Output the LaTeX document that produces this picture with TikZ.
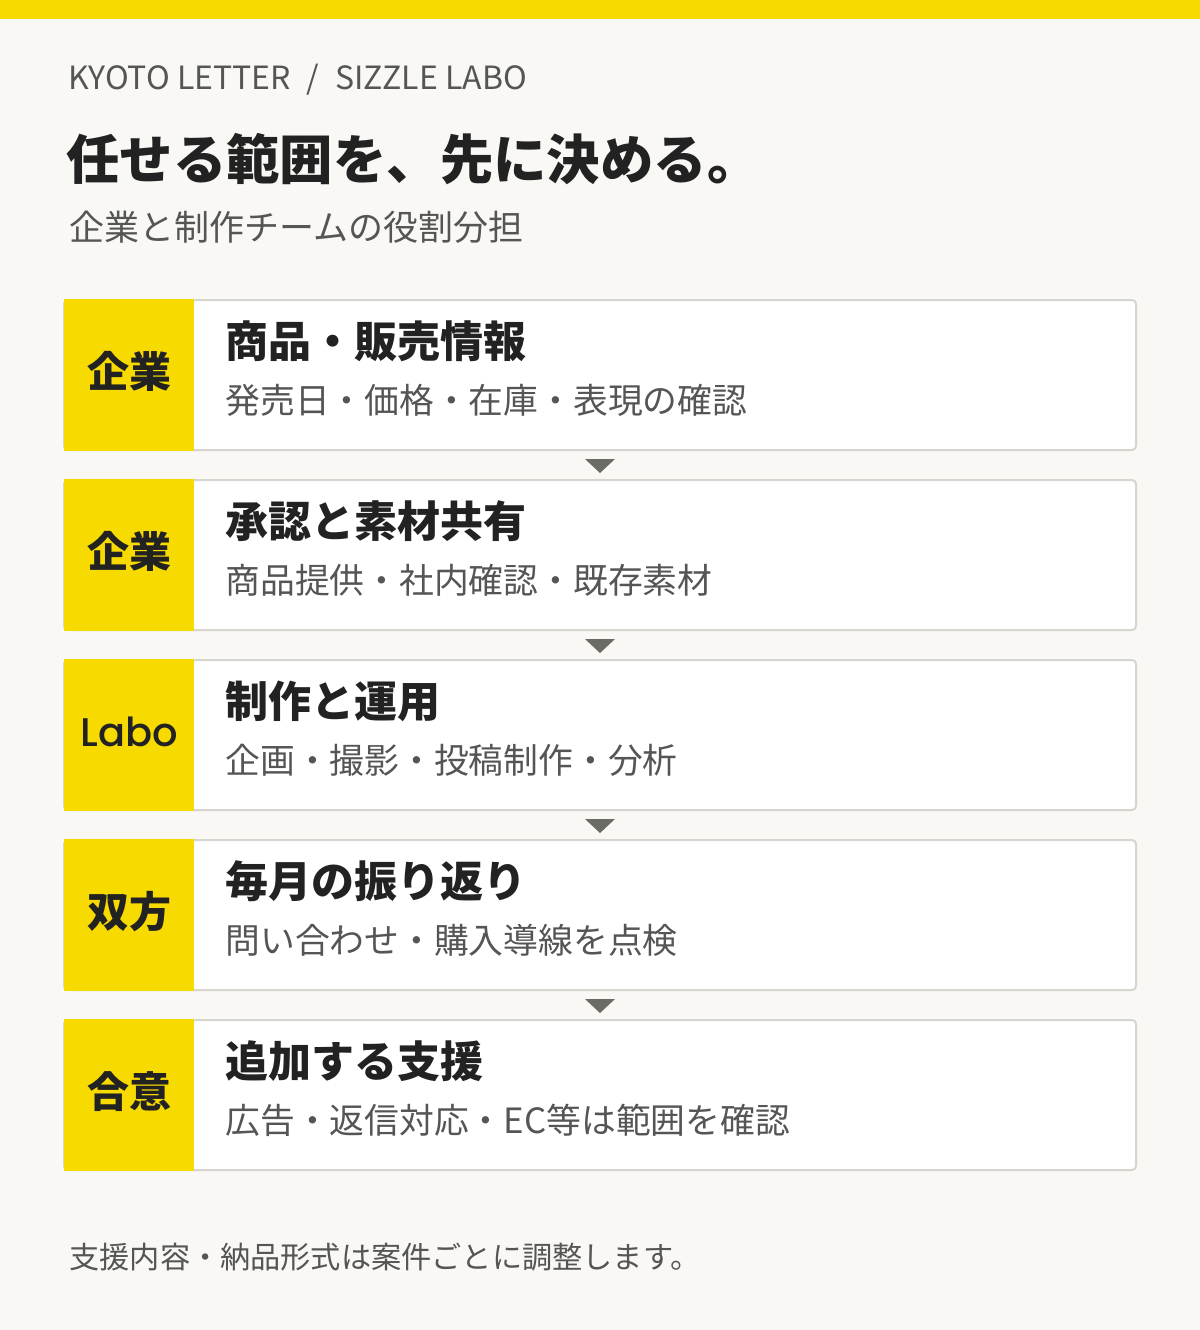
\documentclass[tikz,border=0pt]{standalone}
\usepackage{fontspec}
\setmainfont{Noto Sans CJK JP}
\newfontfamily\labofont{Poppins Medium}
\definecolor{bg}{HTML}{F9F8F5}
\definecolor{labyellow}{HTML}{F7DA00}
\definecolor{linegray}{HTML}{D6D5CF}
\definecolor{arrowgray}{HTML}{6B6B66}
\definecolor{ink}{HTML}{222222}
\definecolor{softink}{HTML}{555555}
\tikzset{
  rowhead/.style={anchor=base west, inner sep=0pt, text=ink, font=\fontsize{21.5}{25}\selectfont\bfseries},
  rowsub/.style={anchor=base west, inner sep=0pt, text=softink, font=\fontsize{17.4}{20}\selectfont},
  rowlab/.style={anchor=base, inner sep=0pt, text=ink, font=\fontsize{21}{25}\selectfont\bfseries}
}
\begin{document}
\begin{tikzpicture}[x=0.5pt,y=-0.5pt]
      \path[fill=bg] (0,0) rectangle (1200,1330);
      \path[fill=labyellow] (0,0) rectangle (1200,19);

      \node[anchor=base west, inner sep=0pt, text=softink, font=\fontsize{16}{19}\selectfont] (brand) at (68,89) {KYOTO LETTER\hspace{8pt}/\hspace{8pt}SIZZLE LABO};
      \node[anchor=base west, inner sep=0pt, text=ink, font=\fontsize{26.7}{30}\selectfont\bfseries] (title) at (66,179) {任せる範囲を、先に決める。};
      \node[anchor=base west, inner sep=0pt, text=softink, font=\fontsize{17.5}{21}\selectfont] (subtitle) at (69,240) {企業と制作チームの役割分担};

      \begin{scope}[shift={(0,300)}]
        \path[fill=white, draw=linegray, line width=1pt, rounded corners=2pt] (64,0) rectangle (1136,150);
        \path[fill=labyellow] (64,-1) rectangle (194,151);
        \node[rowlab] (lab1) at (129,87) {企業};
        \node[rowhead] (head1) at (225,57) {商品・販売情報};
        \node[rowsub] (sub1) at (225,113) {発売日・価格・在庫・表現の確認};
        \path[fill=arrowgray] (585,159) -- (615,159) -- (600,173) -- cycle;
      \end{scope}
      \begin{scope}[shift={(0,480)}]
        \path[fill=white, draw=linegray, line width=1pt, rounded corners=2pt] (64,0) rectangle (1136,150);
        \path[fill=labyellow] (64,-1) rectangle (194,151);
        \node[rowlab] (lab2) at (129,87) {企業};
        \node[rowhead] (head2) at (225,57) {承認と素材共有};
        \node[rowsub] (sub2) at (225,113) {商品提供・社内確認・既存素材};
        \path[fill=arrowgray] (585,159) -- (615,159) -- (600,173) -- cycle;
      \end{scope}
      \begin{scope}[shift={(0,660)}]
        \path[fill=white, draw=linegray, line width=1pt, rounded corners=2pt] (64,0) rectangle (1136,150);
        \path[fill=labyellow] (64,-1) rectangle (194,151);
        \node[rowlab, font=\fontsize{20}{24}\labofont] (lab3) at (129,86) {Labo};
        \node[rowhead] (head3) at (225,57) {制作と運用};
        \node[rowsub] (sub3) at (225,113) {企画・撮影・投稿制作・分析};
        \path[fill=arrowgray] (585,159) -- (615,159) -- (600,173) -- cycle;
      \end{scope}
      \begin{scope}[shift={(0,840)}]
        \path[fill=white, draw=linegray, line width=1pt, rounded corners=2pt] (64,0) rectangle (1136,150);
        \path[fill=labyellow] (64,-1) rectangle (194,151);
        \node[rowlab] (lab4) at (129,87) {双方};
        \node[rowhead] (head4) at (225,57) {毎月の振り返り};
        \node[rowsub] (sub4) at (225,113) {問い合わせ・購入導線を点検};
        \path[fill=arrowgray] (585,159) -- (615,159) -- (600,173) -- cycle;
      \end{scope}
      \begin{scope}[shift={(0,1020)}]
        \path[fill=white, draw=linegray, line width=1pt, rounded corners=2pt] (64,0) rectangle (1136,150);
        \path[fill=labyellow] (64,-1) rectangle (194,151);
        \node[rowlab] (lab5) at (129,87) {合意};
        \node[rowhead] (head5) at (225,57) {追加する支援};
        \node[rowsub] (sub5) at (225,113) {広告・返信対応・EC等は範囲を確認};
      \end{scope}

      \node[anchor=base west, inner sep=0pt, text=softink, font=\fontsize{15.1}{18}\selectfont] (footnote) at (69,1268) {支援内容・納品形式は案件ごとに調整します。};
   \end{tikzpicture}
\end{document}
